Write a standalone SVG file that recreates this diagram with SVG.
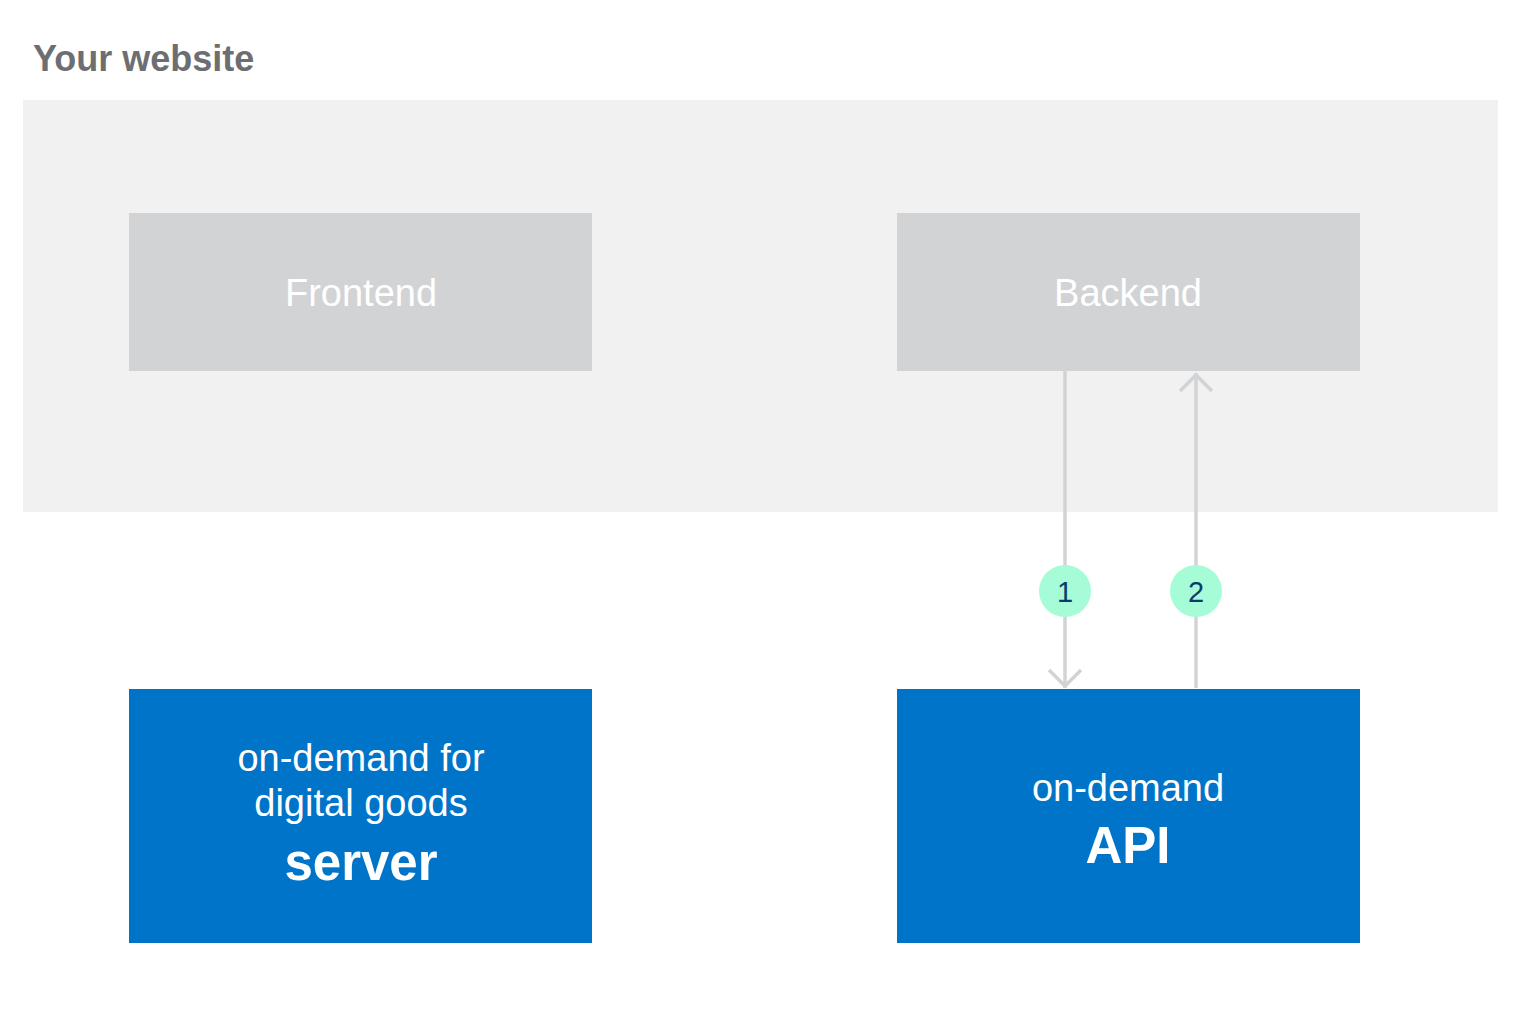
<svg xmlns="http://www.w3.org/2000/svg" width="1521" height="1013" viewBox="0 0 1521 1013">
<style>
.t{font-family:"Liberation Sans",Arial,sans-serif;}
.gray{fill:#d2d3d5;}
.blue{fill:#0074c8;}
.lbl{fill:#ffffff;font-size:38px;text-anchor:middle;}
.big{fill:#ffffff;font-size:51px;font-weight:bold;text-anchor:middle;}
.ln{stroke:#d2d3d5;stroke-width:3.5;fill:none;}
.badge{fill:#a6fcd6;}
.num{fill:#0a3c6b;font-size:29px;text-anchor:middle;}
</style>
<rect width="1521" height="1013" fill="#ffffff"/>
<text class="t" x="33" y="71" font-size="36" font-weight="bold" fill="#6d6e72">Your website</text>
<g id="website"><rect x="23" y="100" width="1475" height="412" fill="#f1f1f1"/></g>
<g id="frontend"><rect class="gray" x="129" y="213" width="463" height="158"/><text class="t lbl" x="361" y="306">Frontend</text></g>
<g id="backend"><rect class="gray" x="897" y="213" width="463" height="158"/><text class="t lbl" x="1128" y="306">Backend</text></g>
<g id="server"><rect class="blue" x="129" y="689" width="463" height="254"/>
<text class="t lbl" x="361" y="771">on-demand for</text>
<text class="t lbl" x="361" y="816">digital goods</text>
<text class="t big" x="361" y="880">server</text></g>
<g id="api"><rect class="blue" x="897" y="689" width="463" height="254"/>
<text class="t lbl" x="1128" y="801">on-demand</text>
<text class="t big" x="1128" y="863">API</text></g>
<g id="connectors">
<line class="ln" x1="1065" y1="371" x2="1065" y2="688"/>
<polyline class="ln" points="1049,670 1065,686 1081,670"/>
<line class="ln" x1="1196" y1="688" x2="1196" y2="373"/>
<polyline class="ln" points="1180,391 1196,375 1212,391"/>
<circle class="badge" cx="1065" cy="591" r="26"/>
<text class="t num" x="1065" y="602">1</text>
<circle class="badge" cx="1196" cy="591" r="26"/>
<text class="t num" x="1196" y="602">2</text>
</g>
</svg>
